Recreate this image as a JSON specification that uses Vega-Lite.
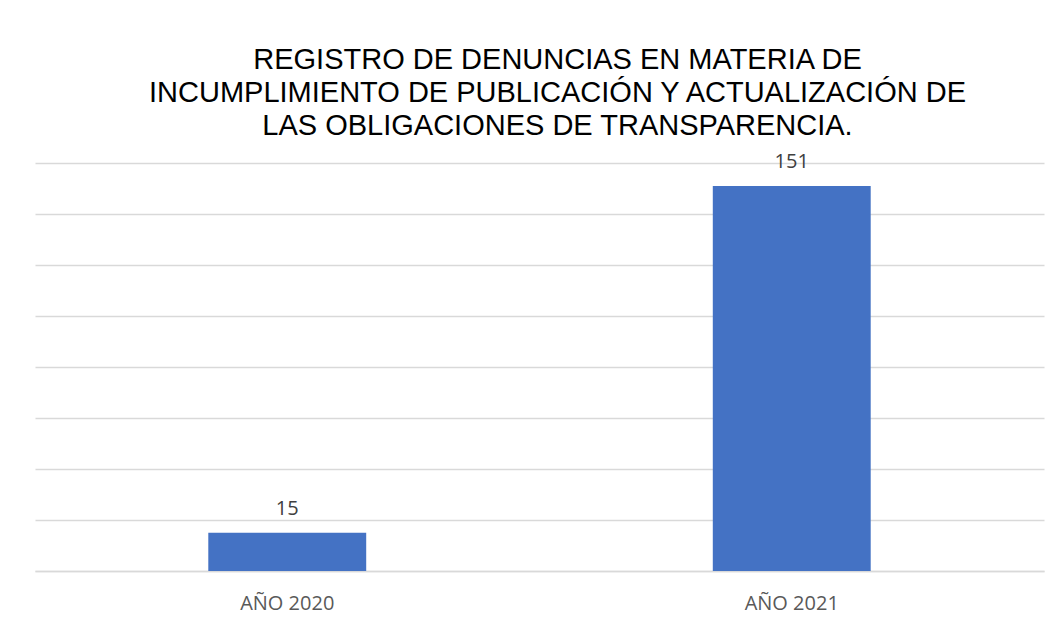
{
  "$schema": "https://vega.github.io/schema/vega-lite/v6.json",
  "autosize": "none",
  "width": 1009,
  "height": 408,
  "padding": {"left": 35, "top": 163, "right": 18, "bottom": 58},
  "background": "white",
  "config": {"view": {"stroke": null}},
  "title": {
    "text": ["REGISTRO DE DENUNCIAS EN MATERIA DE", "INCUMPLIMIENTO DE PUBLICACIÓN Y ACTUALIZACIÓN DE", "LAS OBLIGACIONES DE TRANSPARENCIA."],
    "font": "Liberation Sans",
    "fontSize": 29,
    "fontWeight": "normal",
    "color": "#000000",
    "lineHeight": 33,
    "anchor": "middle",
    "frame": "group",
    "dx": 18,
    "offset": 11
  },
  "data": {"values": [
    {"anio": "AÑO 2020", "denuncias": 15},
    {"anio": "AÑO 2021", "denuncias": 151}
  ]},
  "encoding": {
    "x": {
      "field": "anio", "type": "nominal", "sort": null,
      "scale": {"paddingInner": 0.687, "paddingOuter": 0.3435},
      "axis": {
        "title": null, "labelAngle": 0, "ticks": false,
        "domainColor": "#d9d9d9", "domainWidth": 1.5,
        "labelFont": "Open Sans", "labelFontSize": 20, "labelColor": "#595959",
        "labelPadding": 22
      }
    },
    "y": {
      "field": "denuncias", "type": "quantitative",
      "scale": {"domain": [0, 160], "nice": false},
      "axis": {
        "title": null, "labels": false, "ticks": false, "domain": false,
        "values": [0, 20, 40, 60, 80, 100, 120, 140, 160],
        "gridColor": "#d9d9d9", "gridWidth": 1.5
      }
    }
  },
  "layer": [
    {"mark": {"type": "bar", "color": "#4472C4"}},
    {
      "mark": {"type": "text", "font": "Open Sans", "fontSize": 20, "color": "#404040", "baseline": "alphabetic", "dy": -18},
      "encoding": {"text": {"field": "denuncias", "type": "quantitative"}}
    }
  ]
}
